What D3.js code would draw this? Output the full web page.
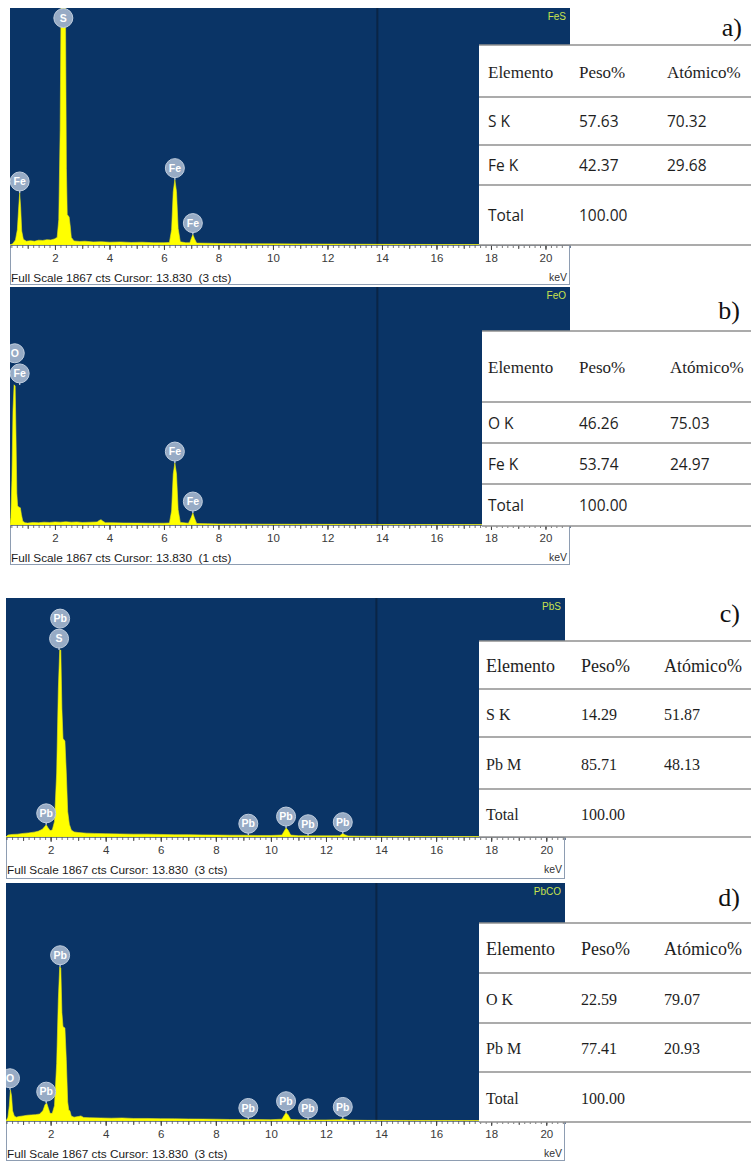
<!DOCTYPE html>
<html>
<head>
<meta charset="utf-8">
<script src="https://cdn.jsdelivr.net/npm/d3@7/dist/d3.min.js"></script>
<style>
  html, body { margin: 0; padding: 0; background: #fff; }
  svg { display: block; }
</style>
</head>
<body>
<svg id="chart" width="751" height="1162"></svg>
<script>
// ---- EDS spectra: [energy keV, counts] ----
const spectrumFeS = [
  [0.35,0],[0.45,10],[0.55,40],[0.62,120],[0.67,300],[0.705,410],[0.74,300],[0.78,110],[0.84,45],
  [0.95,30],[1.1,34],[1.25,30],[1.4,38],[1.55,36],[1.7,42],[1.85,40],[1.98,48],[2.08,60],
  [2.14,200],[2.19,900],[2.23,2100],[2.38,2100],[2.42,600],[2.45,240],[2.52,220],[2.56,150],[2.6,60],
  [2.7,32],[2.9,28],[3.1,30],[3.4,24],[3.7,26],[4.0,22],[4.4,24],[4.8,20],[5.2,22],[5.6,18],[6.0,18],
  [6.2,20],[6.28,120],[6.34,420],[6.40,515],[6.46,420],[6.52,130],[6.6,25],[6.8,18],[6.95,18],
  [7.0,50],[7.06,82],[7.12,50],[7.2,15],[7.6,14],[8.0,12],[9,10],[10,9],[11,8],[12,7],[13,6],[14,5],
  [16,4],[18,3],[20.9,2]
];
const spectrumFeO = [
  [0.35,0],[0.38,60],[0.42,350],[0.46,900],[0.50,1100],[0.54,1090],[0.57,700],[0.6,250],[0.63,150],
  [0.68,140],[0.73,135],[0.77,80],[0.82,30],[0.9,18],[1.0,15],[1.2,20],[1.4,18],[1.6,22],[1.8,20],
  [2.0,24],[2.2,22],[2.4,25],[2.6,22],[2.8,24],[3.0,20],[3.3,22],[3.55,24],[3.62,35],[3.69,42],
  [3.76,30],[3.85,18],[4.1,18],[4.5,16],[5.0,15],[5.5,14],[6.0,14],[6.2,16],[6.28,110],[6.34,400],
  [6.40,486],[6.46,400],[6.52,120],[6.6,20],[6.9,14],[7.0,60],[7.06,94],[7.12,55],[7.2,12],[7.6,10],
  [8,8],[9,7],[10,6],[12,5],[14,4],[17,3],[20.9,2]
];
const spectrumPbS = [
  [0.38,0],[0.45,15],[0.6,20],[0.8,22],[1.0,28],[1.2,32],[1.4,38],[1.55,45],[1.7,60],[1.78,80],
  [1.84,95],[1.9,75],[1.98,50],[2.06,55],[2.14,120],[2.22,500],[2.28,1150],[2.33,1460],[2.37,1460],
  [2.41,1000],[2.45,770],[2.52,750],[2.57,500],[2.62,200],[2.68,100],[2.75,55],[2.85,40],[3.0,35],
  [3.3,30],[3.6,28],[4.0,26],[4.5,24],[5,22],[5.5,22],[6,20],[6.5,18],[7,18],[7.5,16],[8,15],
  [8.5,14],[9,14],[9.5,12],[10,12],[10.4,15],[10.48,45],[10.55,70],[10.62,55],[10.72,15],[11,10],
  [11.5,9],[12,9],[12.5,10],[12.57,22],[12.62,26],[12.68,18],[12.8,8],[13.2,6],[14,5],[16,4],
  [18,3],[20.7,2]
];
const spectrumPbCO = [
  [0.38,0],[0.45,30],[0.5,120],[0.54,245],[0.58,200],[0.62,80],[0.68,40],[0.75,30],[0.85,35],
  [1.0,40],[1.15,45],[1.3,48],[1.45,50],[1.6,55],[1.72,80],[1.8,130],[1.86,140],[1.92,100],
  [1.98,60],[2.06,60],[2.14,120],[2.22,450],[2.28,950],[2.33,1210],[2.37,1200],[2.41,850],
  [2.45,740],[2.52,730],[2.57,480],[2.62,150],[2.66,85],[2.7,80],[2.75,40],[2.85,30],[3.0,35],
  [3.1,40],[3.2,28],[3.4,26],[3.8,24],[4.2,22],[4.6,24],[5,20],[5.5,20],[6,18],[6.5,17],[7,16],
  [7.5,15],[8,14],[8.5,12],[9,12],[9.5,11],[10,10],[10.4,14],[10.5,50],[10.55,65],[10.62,50],
  [10.72,12],[11,9],[11.5,8],[12,8],[12.5,10],[12.6,20],[12.68,14],[12.8,7],[13.5,5],[15,4],
  [18,3],[20.7,2]
];

// ---- peak identification labels: [element, energy keV, stack level] ----
const peaksFeS  = [["Fe",0.705,0],["S",2.307,0],["Fe",6.40,0],["Fe",7.06,0]];
const peaksFeO  = [["O",0.525,1],["Fe",0.705,0],["Fe",6.40,0],["Fe",7.06,0]];
const peaksPbS  = [["Pb",1.84,0],["Pb",2.345,1],["S",2.307,0],["Pb",9.18,0],["Pb",10.55,0],["Pb",11.35,0],["Pb",12.61,0]];
const peaksPbCO = [["O",0.525,0],["Pb",1.84,0],["Pb",2.345,0],["Pb",9.18,0],["Pb",10.55,0],["Pb",11.35,0],["Pb",12.61,0]];

// ---- quantification tables ----
const tableHeader = ["Elemento", "Peso%", "Atómico%"];
const rowsFeS  = [["S K","57.63","70.32"],["Fe K","42.37","29.68"],["Total","100.00",""]];
const rowsFeO  = [["O K","46.26","75.03"],["Fe K","53.74","24.97"],["Total","100.00",""]];
const rowsPbS  = [["S K","14.29","51.87"],["Pb M","85.71","48.13"],["Total","100.00",""]];
const rowsPbCO = [["O K","22.59","79.07"],["Pb M","77.41","20.93"],["Total","100.00",""]];

const compounds = ["FeS", "FeO", "PbS", "PbCO"];
const panelTags = ["a)", "b)", "c)", "d)"];
const cursorCounts = [3, 1, 3, 3];
const fullScale = 1867;
const cursorKeV = 13.83;
const tickLabels = [2, 4, 6, 8, 10, 12, 14, 16, 18, 20];

// ---- page layout of the four panels ----
const layout = [
  { x0: 10, x1: 570, top: 8,   base: 245,  bottom: 286,  dom: [0.35, 20.9],
    tbl: { left: 479, edges: [45, 97, 145, 185, 245] },  cols: [488, 579, 667], rowFont: "sans", headSize: 17,
    tagX: 742, tagY: 27 },
  { x0: 10, x1: 570, top: 287, base: 525,  bottom: 566,  dom: [0.35, 20.9],
    tbl: { left: 482, edges: [331, 402, 443, 484, 526] }, cols: [488, 579, 670], rowFont: "sans", headSize: 17,
    tagX: 740, tagY: 310 },
  { x0: 6,  x1: 565, top: 598, base: 837,  bottom: 880,  dom: [0.38, 20.68],
    tbl: { left: 479, edges: [641, 689, 737, 789, 837] }, cols: [486, 581, 664], rowFont: "serif", headSize: 18,
    tagX: 740, tagY: 613 },
  { x0: 6,  x1: 565, top: 883, base: 1121, bottom: 1162, dom: [0.38, 20.68],
    tbl: { left: 479, edges: [923, 973, 1023, 1072, 1122] }, cols: [486, 581, 664], rowFont: "serif", headSize: 18,
    tagX: 740, tagY: 897 }
];

const spectra = [spectrumFeS, spectrumFeO, spectrumPbS, spectrumPbCO];
const peakSets = [peaksFeS, peaksFeO, peaksPbS, peaksPbCO];
const tableRows = [rowsFeS, rowsFeO, rowsPbS, rowsPbCO];

const BG = "#0a3466";
const SANS = "'Liberation Sans', Arial, sans-serif";
const SERIF = "'Liberation Serif', 'Times New Roman', serif";
const ROWSANS = "'Open Sans', 'Noto Sans', sans-serif";

const svg = d3.select("#chart");
svg.append("rect").attr("width", 751).attr("height", 1162).attr("fill", "#fff");
const defs = svg.append("defs");

// counts at an energy by linear interpolation of the listed points
function countsAt(spec, e) {
  for (let i = 1; i < spec.length; i++) {
    if (e <= spec[i][0]) {
      const [e0, c0] = spec[i - 1], [e1, c1] = spec[i];
      return c0 + (c1 - c0) * (e - e0) / (e1 - e0);
    }
  }
  return spec[spec.length - 1][1];
}
function localMax(spec, e, w) {
  let m = Math.max(countsAt(spec, e - w), countsAt(spec, e + w));
  spec.forEach(d => { if (d[0] >= e - w && d[0] <= e + w) m = Math.max(m, d[1]); });
  return m;
}

layout.forEach((L, i) => {
  const g = svg.append("g");
  const x = d3.scaleLinear().domain(L.dom).range([L.x0, L.x1]);
  const y = d3.scaleLinear().domain([0, fullScale]).range([L.base, L.top]);
  const spec = spectra[i];

  // panel frame: blue plot area + white axis strip
  g.append("rect").attr("x", L.x0).attr("y", L.top).attr("width", L.x1 - L.x0).attr("height", L.base - L.top)
    .attr("fill", BG);
  g.append("rect").attr("x", L.x0 + 0.5).attr("y", L.base).attr("width", L.x1 - L.x0 - 1).attr("height", L.bottom - L.base - 1.5)
    .attr("fill", "#fff").attr("stroke", "#8e9db2").attr("stroke-width", 1);

  const clipId = "clip" + i;
  defs.append("clipPath").attr("id", clipId)
    .append("rect").attr("x", L.x0).attr("y", L.top).attr("width", L.x1 - L.x0).attr("height", L.base - L.top);

  const plot = g.append("g").attr("clip-path", `url(#${clipId})`);

  // cursor line
  plot.append("line").attr("x1", x(cursorKeV)).attr("x2", x(cursorKeV))
    .attr("y1", L.top).attr("y2", L.base).attr("stroke", "#0a2546").attr("stroke-width", 2);

  // spectrum
  const area = d3.area().x(d => x(d[0])).y0(L.base).y1(d => y(d[1])).curve(d3.curveLinear);
  plot.append("path").datum(spec).attr("d", area).attr("fill", "#ffff00")
    .attr("stroke", "#e8e81a").attr("stroke-width", 0.6);

  // compound name
  g.append("text").attr("x", L.x1 - 4).attr("y", L.top + 12).attr("text-anchor", "end")
    .attr("font-family", SANS).attr("font-size", 10).attr("fill", "#c9e24e").text(compounds[i]);

  // axes: minor, unit and labelled ticks
  const axisG = g.append("g").attr("transform", `translate(0,${L.base})`);
  const minorTicks = d3.range(0, 104).map(k => k * 0.2).filter(v => v >= L.dom[0] && v <= L.dom[1]);
  axisG.append("g").call(d3.axisBottom(x).tickValues(minorTicks).tickSize(3).tickFormat(""))
    .call(a => a.select(".domain").attr("stroke", "#6f7f96"))
    .call(a => a.selectAll(".tick line").attr("stroke", "#555").attr("stroke-width", 0.8));
  const unitTicks = d3.range(1, 21).filter(v => v >= L.dom[0] && v <= L.dom[1]);
  axisG.append("g").call(d3.axisBottom(x).tickValues(unitTicks).tickSize(4).tickFormat(""))
    .call(a => a.select(".domain").remove())
    .call(a => a.selectAll(".tick line").attr("stroke", "#555"));
  axisG.append("g").call(d3.axisBottom(x).tickValues(tickLabels).tickSize(5).tickPadding(4).tickFormat(d3.format("d")))
    .call(a => a.select(".domain").remove())
    .call(a => a.selectAll(".tick line").attr("stroke", "#444"))
    .call(a => a.selectAll(".tick text").attr("font-family", SANS).attr("font-size", 11.5).attr("fill", "#3a3a3a"));

  g.append("text").attr("x", L.x1 - 3).attr("y", L.base + 36).attr("text-anchor", "end")
    .attr("font-family", SANS).attr("font-size", 10.5).attr("fill", "#333").text("keV");
  g.append("text").attr("x", L.x0 + 1).attr("y", L.base + 37)
    .attr("font-family", SANS).attr("font-size", 11.8).attr("fill", "#1a1a1a")
    .attr("xml:space", "preserve").style("white-space", "pre")
    .text(`Full Scale ${fullScale} cts Cursor: ${cursorKeV.toFixed(3)}  (${cursorCounts[i]} cts)`);

  // peak identification bubbles
  const R = 9.5;
  peakSets[i].forEach(([el, e, stack]) => {
    const peakY = Math.max(y(localMax(spec, e, 0.2)), L.top);
    const cy0 = Math.max(peakY - R - 2, L.top + 10);
    const cy = cy0 - stack * 20;
    const cx = x(e);
    const b = plot.append("g");
    if (stack === 0 && peakY > cy0 + R) {
      b.append("line").attr("x1", cx).attr("x2", cx).attr("y1", cy0 + R - 1).attr("y2", peakY)
        .attr("stroke", "#b9c9dc").attr("stroke-width", 1.4);
    }
    b.append("circle").attr("cx", cx).attr("cy", cy).attr("r", R)
      .attr("fill", "#97abc5").attr("stroke", "#c2cfdf").attr("stroke-width", 1);
    b.append("text").attr("x", cx).attr("y", cy).attr("dy", "0.36em").attr("text-anchor", "middle")
      .attr("font-family", SANS).attr("font-size", 10.5).attr("font-weight", "bold").attr("fill", "#ffffff")
      .text(el);
  });

  // quantification table
  const T = L.tbl, E = T.edges;
  g.append("rect").attr("x", T.left).attr("y", E[0]).attr("width", 751 - T.left).attr("height", E[4] - E[0])
    .attr("fill", "#fff");
  E.forEach(ey => g.append("line").attr("x1", T.left).attr("x2", 751).attr("y1", ey).attr("y2", ey)
    .attr("stroke", "#8f8f8f").attr("stroke-width", 1.5));
  const allRows = [tableHeader].concat(tableRows[i]);
  allRows.forEach((row, r) => {
    const cyRow = (E[r] + E[r + 1]) / 2 + 1;
    const serif = r === 0 || L.rowFont === "serif";
    row.forEach((cell, c) => {
      g.append("text").attr("x", L.cols[c]).attr("y", cyRow).attr("dy", "0.35em")
        .attr("font-family", serif ? SERIF : ROWSANS)
        .attr("font-size", r === 0 ? L.headSize : (serif ? 16 : 15.5))
        .attr("fill", "#1e1e1e").text(cell);
    });
  });

  // panel tag
  g.append("text").attr("x", L.tagX).attr("y", L.tagY).attr("dy", "0.35em").attr("text-anchor", "end")
    .attr("font-family", SERIF).attr("font-size", 26).attr("fill", "#111").text(panelTags[i]);
});
</script>
</body>
</html>
